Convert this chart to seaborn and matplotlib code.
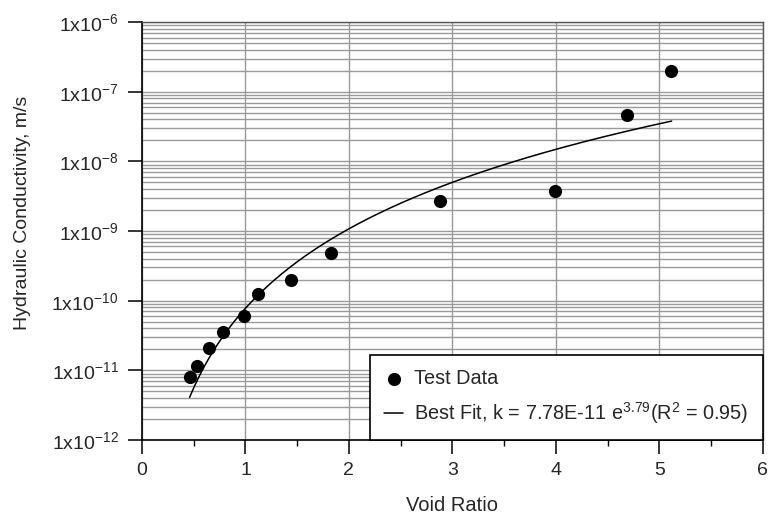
import numpy as np
import pandas as pd
import matplotlib
matplotlib.use("Agg")
import matplotlib.pyplot as plt
import seaborn as sns
from matplotlib.ticker import LogLocator, FixedLocator, NullFormatter

# Test data
void_ratio = [0.46, 0.53, 0.65, 0.78, 0.99, 1.12, 1.44, 1.83, 2.88, 3.99, 4.69, 5.11]
conductivity = [7.9e-12, 1.15e-11, 2.1e-11, 3.6e-11, 6.1e-11, 1.23e-10, 2.0e-10,
                4.9e-10, 2.7e-9, 3.8e-9, 4.6e-8, 2.0e-7]

# Best fit parameters as stated in the legend: k = a * e^b
fit_a = 7.78e-11
fit_b = 3.79
fit_range = [0.46, 5.12]

y_tick_labels = ["1x10$^{-12}$", "1x10$^{-11}$", "1x10$^{-10}$", "1x10$^{-9}$",
                 "1x10$^{-8}$", "1x10$^{-7}$", "1x10$^{-6}$"]
x_ticks = [0, 1, 2, 3, 4, 5, 6]

sns.set_style("white")
plt.rcParams["font.family"] = ["Liberation Sans", "DejaVu Sans"]
plt.rcParams["mathtext.fontset"] = "custom"
plt.rcParams["mathtext.rm"] = "Liberation Sans"
plt.rcParams["mathtext.it"] = "Liberation Sans"
plt.rcParams["mathtext.default"] = "regular"

fig = plt.figure(figsize=(7.71, 5.14), dpi=100)
ax = fig.add_axes([0.1842, 0.144, 0.805, 0.813])

e_fit = np.linspace(fit_range[0], fit_range[1], 200)
fit_df = pd.DataFrame({"e": e_fit, "k": fit_a * e_fit ** fit_b})
data_df = pd.DataFrame({"e": void_ratio, "k": conductivity})

ax.set_yscale("log")
sns.scatterplot(data=data_df, x="e", y="k", ax=ax, color="black", s=90,
                edgecolor="black", linewidth=0, label="Test Data", zorder=4)
sns.lineplot(data=fit_df, x="e", y="k", ax=ax, color="black", linewidth=1.1,
             label="Best Fit, k = 7.78E-11 e$^{3.79}$(R$^{2}$ = 0.95)", zorder=3)

ax.set_xlim(0, 6)
ax.set_ylim(1e-12, 1e-6)
ax.xaxis.set_major_locator(FixedLocator(x_ticks))
ax.xaxis.set_minor_locator(FixedLocator(np.arange(0.5, 6, 1.0)))
ax.set_xticklabels([str(t) for t in x_ticks])
ax.yaxis.set_major_locator(FixedLocator([10.0 ** p for p in range(-12, -5)]))
ax.set_yticklabels(y_tick_labels)
ax.yaxis.set_minor_locator(LogLocator(base=10, subs=np.arange(2, 10), numticks=100))
ax.yaxis.set_minor_formatter(NullFormatter())

ax.grid(True, which="major", axis="both", color="#9a9a9a", linewidth=1.0)
ax.grid(True, which="minor", axis="y", color="#9a9a9a", linewidth=1.0)
ax.set_axisbelow(True)

ax.tick_params(axis="both", which="major", direction="out", length=10, width=1.1,
               color="black", labelsize=14, bottom=True, left=True, pad=7)
ax.tick_params(axis="x", which="major", pad=6)
ax.tick_params(axis="x", which="minor", direction="out", length=4, width=1,
               color="black", bottom=True)
ax.tick_params(axis="y", which="minor", left=False)

for side in ["left", "bottom"]:
    ax.spines[side].set_color("black")
    ax.spines[side].set_linewidth(1.2)
for side in ["top", "right"]:
    ax.spines[side].set_color("#555555")
    ax.spines[side].set_linewidth(1.0)

ax.set_xlabel("Void Ratio", fontsize=14.5, labelpad=12)
ax.set_ylabel("Hydraulic Conductivity, m/s", fontsize=14)
ax.yaxis.set_label_coords(-0.179, 0.544)

leg = ax.legend(loc="lower right", fontsize=14.3, frameon=True, fancybox=False,
                edgecolor="black", framealpha=1, borderpad=0.72, handlelength=0.95,
                handletextpad=0.55, borderaxespad=0.0, labelspacing=0.6)
leg.get_frame().set_linewidth(1.2)

fig.savefig("out.png", dpi=100)
